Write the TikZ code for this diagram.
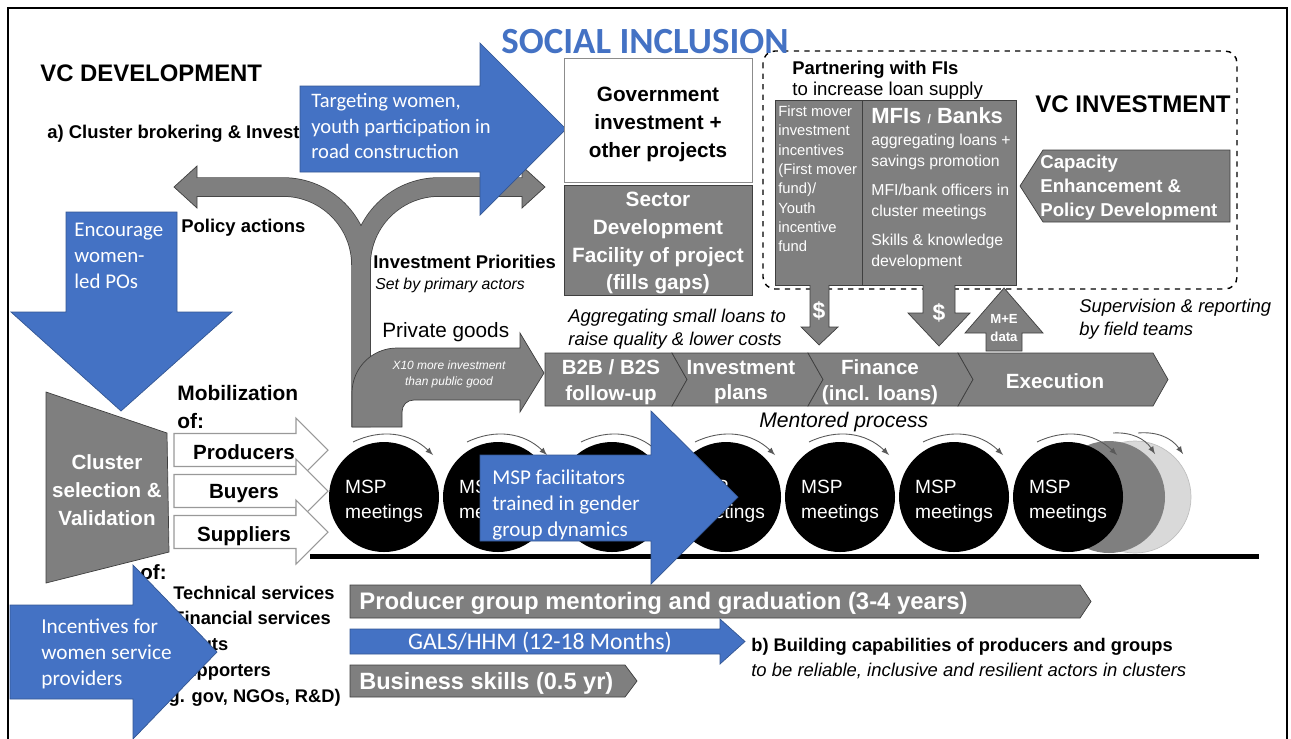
\documentclass[tikz,border=0pt]{standalone}
\usepackage{fontspec}
\setmainfont{Liberation Sans}
\newfontfamily\calibri{Carlito}
\usetikzlibrary{positioning}
\definecolor{incblue}{HTML}{4472C4}
\definecolor{boxgray}{HTML}{7F7F7F}
\definecolor{edgegray}{HTML}{3F3F3F}
\definecolor{ghostgray}{HTML}{D9D9D9}
\newcommand{\fsz}[2]{\fontsize{#1}{#2}\selectfont}

\begin{document}
\begin{tikzpicture}
  [
  x=0.2mm, y=-0.2mm,
  gshape/.style={fill=boxgray, draw=edgegray, line width=0.4pt},
  bshape/.style={fill=incblue, draw=incblue!75!black, line width=0.4pt},
  wshape/.style={fill=white, draw=black!40, line width=0.6pt},
  txt/.style={inner sep=0pt, align=left},
  bold/.style={txt, font=\bfseries\fsz{10.5pt}{13pt}},
  slant/.style={txt, font=\itshape\fsz{10.5pt}{13.4pt}},
  bluetxt/.style={txt, text=white, font=\calibri\fsz{11.9pt}{14.7pt}},
  chevtxt/.style={inner sep=0pt, align=center, text=white, font=\bfseries\fsz{11.7pt}{14.7pt}},
  meeting/.style={circle, fill=black, minimum size=22mm, inner sep=0pt},
  meettxt/.style={txt, text=white, font=\fsz{10.9pt}{14.2pt}},
  turn/.style={-latex, draw=black!65, line width=0.5pt}
  ]
  \useasboundingbox (0,0) rectangle (1291,738);
  \draw[line width=1.4pt] (8,8) rectangle (1287,760);

  \node[txt, font=\bfseries\fsz{13.6pt}{16pt}, anchor=west] (vcdev) at (40,73) {VC DEVELOPMENT};
  \node[bold, anchor=west] (broker) at (47,134) {a) Cluster brokering \& Investment};

  % policy / public goods split
  \draw[line width=3.9mm, edgegray] (361,427) -- (361,265) .. controls (361,222) and (326,187) .. (283,187) -- (197,187);
  \draw[line width=3.9mm, edgegray] (361,265) .. controls (361,222) and (396,187) .. (439,187) -- (522,187);
  \draw[line width=3.6mm, boxgray] (361,427) -- (361,265) .. controls (361,222) and (326,187) .. (283,187) -- (196,187);
  \draw[line width=3.6mm, boxgray] (361,265) .. controls (361,222) and (396,187) .. (439,187) -- (523,187);
  \filldraw[gshape] (197,178) -- (197,166) -- (174,187) -- (197,208) -- (197,196);
  \filldraw[gshape] (522,178) -- (522,166) -- (545,187) -- (522,208) -- (522,196);
  \filldraw[gshape] (352,427) -- (352,393) .. controls (352,368) and (372,348) .. (397,348) -- (520,348)
    -- (520,333) -- (544,373) -- (520,412) -- (520,400) -- (414,400) .. controls (407,400) and (402,405) .. (402,412)
    -- (402,427) -- cycle;
  \node[txt, text=white, align=center, font=\itshape\fsz{6.8pt}{9pt}] (tenfold) at (449,374) {X10 more investment\\than public good};

  \node[bold, anchor=west] (policy) at (181,228) {Policy actions};
  \node[bold, anchor=west] (priorities) at (373,262) {Investment Priorities};
  \node[txt, font=\itshape\fsz{9pt}{11pt}, anchor=west] (primary) at (375,285) {Set by primary actors};
  \node[txt, font=\fsz{11.8pt}{14pt}, anchor=west] (private) at (382,332) {Private goods};

  \filldraw[bshape] (300,86) -- (480,86) -- (480,43) -- (566,129) -- (480,215) -- (480,172) -- (300,172) -- cycle;
  \node[bluetxt, font=\calibri\fsz{11.7pt}{14.7pt}, anchor=west] (targeting) at (311,126) {Targeting women,\\youth participation in\\road construction};

  \node[draw=black!45, fill=white, minimum width=37.6mm, minimum height=24.8mm] (govinv) at (658,120) {};
  \node[txt, align=center, font=\bfseries\fsz{11.8pt}{15.9pt}] (govtxt) at (658,124) {Government\\investment +\\other projects};
  \node[gshape, minimum width=37.6mm, minimum height=22mm] (sectorfac) at (658,240) {};
  \node[txt, align=center, text=white, font=\bfseries\fsz{11.8pt}{15.9pt}] (sectortxt) at (658,243)
    {Sector\\Development\\Facility of project\\(fills gaps)};

  % finance partners
  \draw[dashed, line width=0.8pt, rounded corners=2.4mm] (763,51) rectangle (1237,289);
  \node[txt, font=\calibri\bfseries\fsz{21pt}{24pt}, text=incblue] (social) at (645,42) {SOCIAL INCLUSION};
  \node[bold, anchor=west] (fipartner) at (792,70) {Partnering with FIs};
  \node[txt, font=\fsz{10.6pt}{13pt}, anchor=west] (fisupply) at (792,91) {to increase loan supply};
  \filldraw[gshape] (775,100) rectangle (862,285);
  \filldraw[gshape] (862,100) rectangle (1016,285);
  \node[txt, text=white, font=\fsz{8.4pt}{11pt}, anchor=west] (firstmover) at (778,179)
    {First mover\\investment\\incentives\\(First mover\\fund)/\\Youth\\incentive\\fund};
  \node[txt, text=white, font=\bfseries\fsz{12.5pt}{14pt}, anchor=west] (mfibank) at (871,116) {MFIs {\fsz{7pt}{8pt}/} Banks};
  \node[txt, text=white, font=\fsz{9pt}{11.9pt}, anchor=west] (mfitext) at (871,202)
    {aggregating loans +\\savings promotion\\[4.5pt]MFI/bank officers in\\cluster meetings\\[4.5pt]Skills \& knowledge\\development};
  \filldraw[gshape] (810,285) -- (810,327) -- (801,327) -- (819,345) -- (838,327) -- (829,327) -- (829,285);
  \filldraw[gshape] (923,285) -- (923,313) -- (908,313) -- (939,346) -- (970,313) -- (955,313) -- (955,285);
  \node[txt, text=white, font=\bfseries\fsz{13pt}{14pt}] (dollarA) at (819,311) {\$};
  \node[txt, text=white, font=\bfseries\fsz{13pt}{14pt}] (dollarB) at (939,313) {\$};
  \filldraw[gshape] (1004,288) -- (1043,333) -- (1022,333) -- (1022,351) -- (986,351) -- (986,333) -- (965,333) -- cycle;
  \node[txt, align=center, text=white, font=\bfseries\fsz{7.5pt}{10pt}] (medata) at (1004,328) {M+E\\data};

  \node[txt, font=\bfseries\fsz{13.7pt}{16pt}, anchor=west] (vcinv) at (1035,104) {VC INVESTMENT};
  \filldraw[gshape] (1043,150) -- (1230,150) -- (1230,222) -- (1043,222) -- (1020,186) -- cycle;
  \node[txt, text=white, font=\bfseries\fsz{10.6pt}{13.6pt}, anchor=west] (capacity) at (1040,188)
    {Capacity\\Enhancement \&\\Policy Development};
  \node[slant, anchor=west] (supervision) at (1079,319) {Supervision \& reporting\\by field teams};
  \node[slant, anchor=west] (aggregating) at (568,329) {Aggregating small loans to\\raise quality \& lower costs};

  % mentored process
  \filldraw[gshape] (545,353) -- (672,353) -- (687,379.5) -- (672,406) -- (545,406) -- cycle;
  \filldraw[gshape] (672,353) -- (808,353) -- (823,379.5) -- (808,406) -- (672,406) -- (687,379.5) -- cycle;
  \filldraw[gshape] (808,353) -- (958,353) -- (973,379.5) -- (958,406) -- (808,406) -- (823,379.5) -- cycle;
  \filldraw[gshape] (958,353) -- (1153,353) -- (1168,379.5) -- (1153,406) -- (958,406) -- (973,379.5) -- cycle;
  \node[chevtxt] (b2b) at (611,382) {B2B / B2S\\follow-up};
  \node[chevtxt] (invest) at (741,382) {Investment\\plans};
  \node[chevtxt] (finance) at (880,382) {Finance\\(incl. loans)};
  \node[chevtxt] (execution) at (1055,381) {Execution};
  \node[txt, font=\itshape\fsz{12pt}{14pt}, anchor=west] (mentored) at (759,422) {Mentored process};

  \node[circle, fill=ghostgray, draw=black!25, minimum size=22.4mm] (ghostB) at (1135,497) {};
  \node[circle, fill=boxgray, minimum size=22.4mm] (ghostA) at (1109,497) {};
  \foreach \i/\cx in {1/384,2/498,3/612,4/726,5/840,6/954,7/1068}
  {
    \node[meeting] (msp\i) at (\cx,497) {};
    \node[meettxt] (msptxt\i) at (\cx,501) {MSP\\meetings};
    \draw[turn] (\cx-31,442) to[bend left=35] (\cx+49,455);
  }
  \draw[turn] (1113,433) to[bend left=30] (1155,454);
  \draw[turn] (1138,433) to[bend left=30] (1183,454);
  \draw[line width=1mm] (310,556) -- (1259,556);

  \filldraw[bshape] (480,455) -- (651,455) -- (651,411) -- (738,497) -- (651,584) -- (651,541) -- (480,541) -- cycle;
  \node[bluetxt, font=\calibri\fsz{12pt}{14.7pt}, anchor=west] (facilitators) at (492,505)
    {MSP facilitators\\trained in gender\\group dynamics};

  % clusters and mobilization
  \filldraw[bshape] (66,212) -- (177,212) -- (177,312) -- (232,312) -- (121,411) -- (11,312) -- (66,312) -- cycle;
  \node[bluetxt, anchor=west] (encourage) at (74,256) {Encourage\\women-\\led POs};
  \node[txt, font=\bfseries\fsz{11.9pt}{15.9pt}, anchor=west] (mobil) at (177,407) {Mobilization\\of:};
  \filldraw[gshape] (46,392) -- (167,433) -- (169,552) -- (46,583) -- cycle;
  \node[txt, align=center, text=white, font=\bfseries\fsz{11.7pt}{15.9pt}] (cluster) at (107,490)
    {Cluster\\selection \&\\Validation};
  \foreach \name/\cy in {producers/450,buyers/491,suppliers/532}
    \filldraw[wshape] (174,\cy-16.5) -- (296,\cy-16.5) -- (296,\cy-32) -- (328,\cy) -- (296,\cy+32)
      -- (296,\cy+16.5) -- (174,\cy+16.5) -- cycle;
  \node[txt, font=\bfseries\fsz{11.7pt}{14pt}] (producers) at (244,452) {Producers};
  \node[txt, font=\bfseries\fsz{11.7pt}{14pt}] (buyers) at (244,494) {Buyers};
  \node[txt, font=\bfseries\fsz{11.7pt}{14pt}] (suppliers) at (244,536) {Suppliers};

  \node[txt, font=\bfseries\fsz{11.7pt}{14pt}, anchor=west] (servof) at (140,572) {of:};
  \node[txt, font=\bfseries\fsz{10.4pt}{14.6pt}, anchor=west] (services) at (173,633)
    {Technical services\\Financial services\\Inputs\\Supporters};
  \node[txt, font=\bfseries\fsz{10.4pt}{14.6pt}, anchor=east] (examples) at (341,698) {(e.g. gov, NGOs, R\&D)};
  \filldraw[bshape] (10,605) -- (133,605) -- (133,565) -- (217,652) -- (133,739) -- (133,699) -- (10,699) -- cycle;
  \node[bluetxt, font=\calibri\fsz{12.1pt}{14.7pt}, anchor=west] (incentives) at (41,654)
    {Incentives for\\women service\\providers};

  % capability building
  \filldraw[gshape] (350,585) -- (1080,585) -- (1091,601.5) -- (1080,618) -- (350,618) -- cycle;
  \node[txt, text=white, font=\bfseries\fsz{13.6pt}{16pt}, anchor=west] (mentoring) at (359,603)
    {Producer group mentoring and graduation (3-4 years)};
  \filldraw[bshape] (350,629) -- (720,629) -- (720,619) -- (745,641.5) -- (720,664) -- (720,654) -- (350,654) -- cycle;
  \node[txt, text=white, font=\calibri\fsz{13.5pt}{15pt}] (gals) at (540,642) {GALS/HHM (12-18 Months)};
  \filldraw[gshape] (350,665) -- (625,665) -- (637,681) -- (625,697) -- (350,697) -- cycle;
  \node[txt, text=white, font=\bfseries\fsz{13.4pt}{16pt}, anchor=west] (business) at (359,683) {Business skills (0.5 yr)};
  \node[bold, font=\bfseries\fsz{10.4pt}{13pt}, anchor=west] (building) at (751,647) {b) Building capabilities of producers and groups};
  \node[slant, anchor=west] (reliable) at (751,671) {to be reliable, inclusive and resilient actors in clusters};
\end{tikzpicture}
\end{document}
